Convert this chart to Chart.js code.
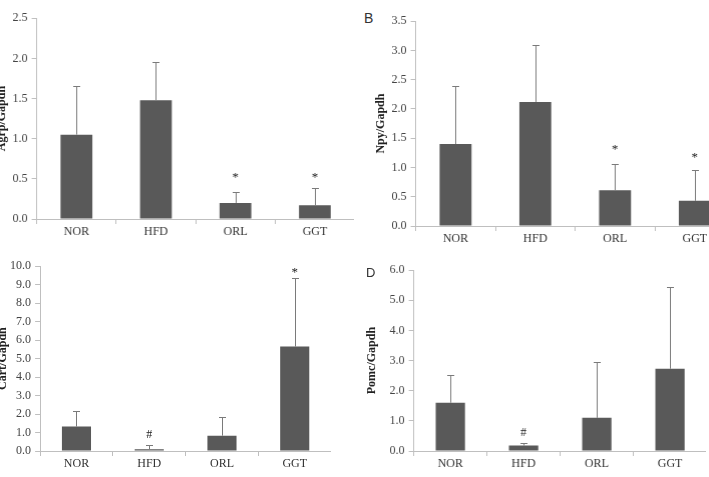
<!DOCTYPE html>
<html>
<head>
<meta charset="utf-8">
<script src="https://cdn.jsdelivr.net/npm/chart.js@4"></script>
<style>
  html, body { margin:0; padding:0; background:#fff; width:709px; height:477px; overflow:hidden; position:relative; }
  .panel { position:absolute; }
  .letter { position:absolute; font:14px 'Liberation Sans', sans-serif; color:#333; }
</style>
</head>
<body>
<div class="panel" id="pA"><canvas id="cA"></canvas></div>
<div class="panel" id="pB"><canvas id="cB"></canvas></div>
<div class="panel" id="pC"><canvas id="cC"></canvas></div>
<div class="panel" id="pD"><canvas id="cD"></canvas></div>
<div class="letter" style="left:364px;top:10px">B</div>
<div class="letter" style="left:366px;top:265px;font-size:13px">D</div>
<script>
const SERIF = "'Liberation Serif', 'Times New Roman', serif";

// groups on the x axis
const categories = ['NOR', 'HFD', 'ORL', 'GGT'];

// A: Agrp/Gapdh
const agrpMean = [1.05, 1.48, 0.20, 0.17];
const agrpSd   = [0.60, 0.47, 0.14, 0.22];
const agrpMark = ['', '', '*', '*'];
const agrpMarkY = [0, 0, 0.55, 0.55];

// B: Npy/Gapdh
const npyMean = [1.40, 2.12, 0.61, 0.43];
const npySd   = [1.00, 0.97, 0.45, 0.53];
const npyMark = ['', '', '*', '*'];
const npyMarkY = [0, 0, 1.35, 1.22];

// C: Cart/Gapdh
const cartMean = [1.32, 0.10, 0.83, 5.65];
const cartSd   = [0.83, 0.25, 1.00, 3.70];
const cartMark = ['', '#', '', '*'];
const cartMarkY = [0, 0.85, 0, 9.84];

// D: Pomc/Gapdh
const pomcMean = [1.60, 0.18, 1.10, 2.73];
const pomcSd   = [0.92, 0.07, 1.87, 2.70];
const pomcMark = ['', '#', '', ''];
const pomcMarkY = [0, 0.59, 0, 0];

// error bars (upper only) + significance marks
const errBars = {
  id: 'errBars',
  afterDatasetsDraw(chart, args, opts) {
    const { ctx, scales: { x, y } } = chart;
    const means = chart.data.datasets[0].data;
    ctx.save();
    ctx.strokeStyle = '#7a7a7a';
    ctx.lineWidth = 1;
    means.forEach((m, i) => {
      const px = Math.round(x.getPixelForValue(i)) + 0.5;
      const y0 = y.getPixelForValue(m);
      const y1 = Math.round(y.getPixelForValue(m + opts.sd[i])) + 0.5;
      ctx.beginPath();
      ctx.moveTo(px, y0); ctx.lineTo(px, y1);
      ctx.moveTo(px - 3.5, y1); ctx.lineTo(px + 3.5, y1);
      ctx.stroke();
    });
    ctx.fillStyle = '#222';
    ctx.textAlign = 'center';
    ctx.textBaseline = 'middle';
    opts.marks.forEach((s, i) => {
      if (!s) return;
      // the asterisk glyph sits high in the em box, so drop it a little
      ctx.font = (s === '*' ? '13px ' : '12px ') + SERIF;
      const dy = s === '*' ? 3 : 0;
      ctx.fillText(s, x.getPixelForValue(i), y.getPixelForValue(opts.markY[i]) + dy);
    });
    ctx.restore();
  }
};

function makeChart(id, box, means, sd, marks, markY, yMax, yStep, yTitle) {
  const panel = document.getElementById('p' + id);
  panel.style.left = box.scaleLeft + 'px';
  panel.style.top = (box.top - 10) + 'px';
  panel.style.width = (box.plotRight - box.scaleLeft) + 'px';
  panel.style.height = (box.bottom - box.top + 40) + 'px';

  return new Chart(document.getElementById('c' + id), {
    type: 'bar',
    data: {
      labels: categories,
      datasets: [{
        data: means,
        backgroundColor: '#595959',
        borderWidth: 0,
        barPercentage: 0.4,
        categoryPercentage: 1
      }]
    },
    options: {
      responsive: true,
      maintainAspectRatio: false,
      animation: false,
      layout: { padding: { top: 10, left: 0, right: 0, bottom: 0 } },
      plugins: {
        legend: { display: false },
        tooltip: { enabled: false },
        errBars: { sd, marks, markY }
      },
      scales: {
        x: {
          grid: { offset: true, drawOnChartArea: false, tickLength: 5, color: '#bfbfbf' },
          border: { color: '#bfbfbf' },
          ticks: { font: { family: SERIF, size: 12 }, color: '#333', padding: 1 },
          afterFit: s => { s.height = 30; }
        },
        y: {
          min: 0, max: yMax,
          grid: { drawOnChartArea: false, tickLength: 5, color: '#bfbfbf' },
          border: { color: '#bfbfbf' },
          ticks: {
            stepSize: yStep,
            font: { family: SERIF, size: 12 },
            color: '#444',
            padding: 4,
            callback: v => Number(v).toFixed(1)
          },
          title: {
            display: true, text: yTitle, color: '#222', padding: 0,
            font: { family: SERIF, size: 12, weight: 'bold' }
          },
          afterFit: s => { s.width = box.axisX - box.scaleLeft; }
        }
      }
    },
    plugins: [errBars]
  });
}

makeChart('A', { scaleLeft: -4.6, axisX: 37, plotRight: 354, top: 17, bottom: 219 },
  agrpMean, agrpSd, agrpMark, agrpMarkY, 2.5, 0.5, 'Agrp/Gapdh');
makeChart('B', { scaleLeft: 374.4, axisX: 416, plotRight: 734, top: 20, bottom: 226 },
  npyMean, npySd, npyMark, npyMarkY, 3.5, 0.5, 'Npy/Gapdh');
makeChart('C', { scaleLeft: -4.1, axisX: 40, plotRight: 331, top: 265, bottom: 451 },
  cartMean, cartSd, cartMark, cartMarkY, 10, 1, 'Cart/Gapdh');
makeChart('D', { scaleLeft: 365.4, axisX: 414, plotRight: 706, top: 269, bottom: 451 },
  pomcMean, pomcSd, pomcMark, pomcMarkY, 6, 1, 'Pomc/Gapdh');
</script>
</body>
</html>
